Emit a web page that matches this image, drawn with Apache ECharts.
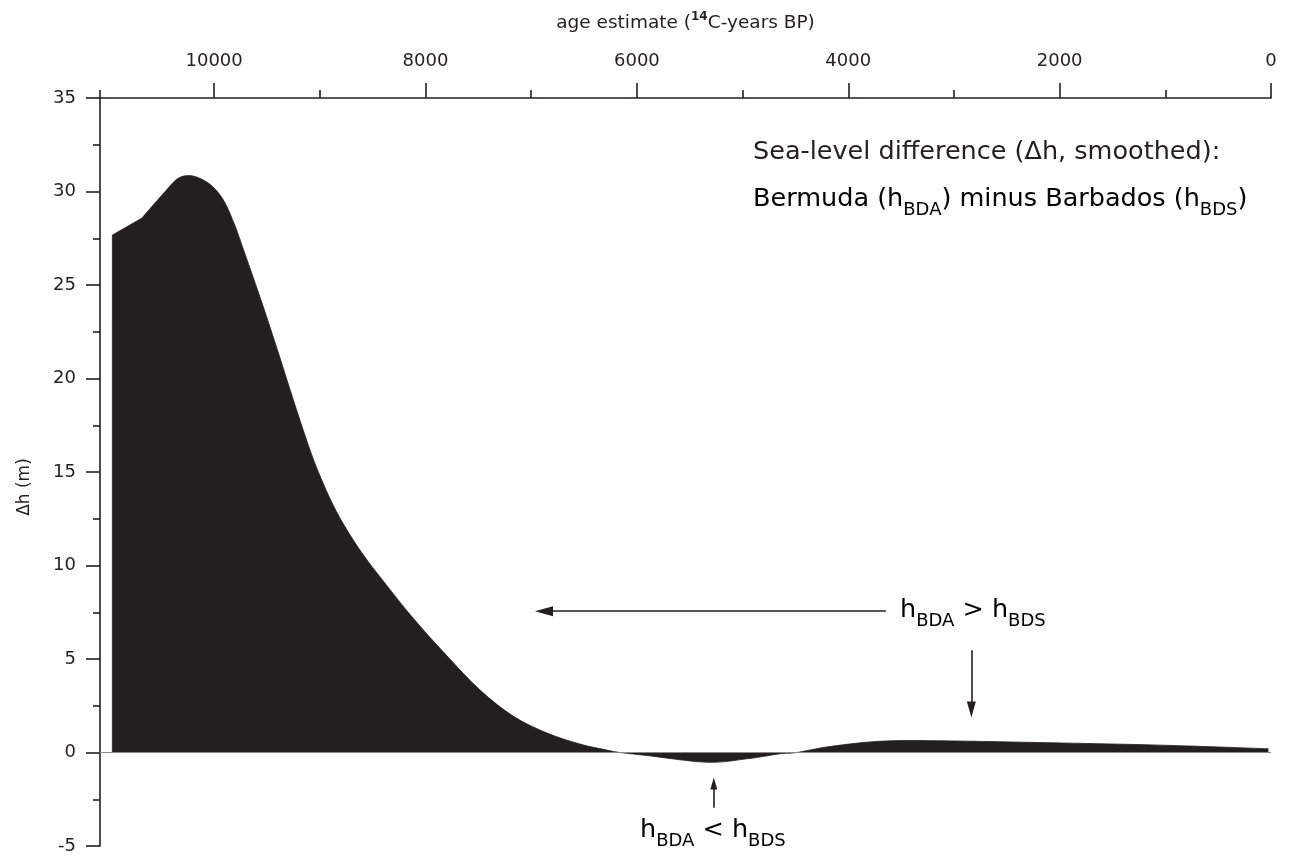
<!DOCTYPE html>
<html>
<head>
<meta charset="utf-8">
<script src="https://cdn.jsdelivr.net/npm/echarts@6/dist/echarts.min.js"></script>
<style>
  html, body { margin: 0; padding: 0; background: #fff; }
  #seaLevelChart { width: 1294px; height: 858px; }
</style>
</head>
<body>
<div id="seaLevelChart"></div>
<script>
// age (14C-years BP) and smoothed sea-level difference dh (m)
const ageYears = [10963, 10685, 10465, 10339, 10212, 10086, 9991, 9897, 9802, 9708, 9547, 9395,
  9235, 9093, 8998, 8875, 8743, 8601, 8430, 8118, 7796, 7484, 7172, 6850, 6538, 6283, 6160,
  5907, 5339, 4961, 4646, 4488, 4173, 3700, 3163, 1902, 956, 28]
const deltaH = [27.67, 28.57, 29.99, 30.71, 30.84, 30.56, 30.13, 29.39, 28.16, 26.66, 24.04, 21.42,
  18.58, 16.18, 14.79, 13.24, 11.9, 10.67, 9.39, 7.19, 5.16, 3.34, 1.95, 1.04, 0.45, 0.13, 0,
  -0.16, -0.52, -0.34, -0.07, 0, 0.32, 0.6, 0.63, 0.5, 0.38, 0.2]

// axis ticks
const xMajorTicks = [0, 2000, 4000, 6000, 8000, 10000]
const xMinorTicks = [1000, 3000, 5000, 7000, 9000, 11080]

// arrows: [from, to] in [age, dh]
const arrowOlder = [[3644, 7.56], [6879, 7.56]]
const arrowDown = [[2835, 5.47], [2835, 2.3]]
const arrowUp = [[5272, -2.95], [5272, -1.66]]

const ink = '#231f20'
const font = 'DejaVu Sans'

const myChart = echarts.init(document.getElementById('seaLevelChart'))

const pts = ageYears.map((a, i) => [a, deltaH[i]])

// filled curve: Catmull-Rom through the points, closed on dh = 0
// (the kink at the 2nd point is kept, like in the original figure)
function renderArea(params, api) {
  if (params.dataIndex !== 0) return null
  const p = pts.map(d => api.coord(d))
  const y0 = api.coord([0, 0])[1]
  const t = 1 / 6
  let path = 'M' + p[0][0] + ',' + y0 + ' L' + p[0][0] + ',' + p[0][1] + ' L' + p[1][0] + ',' + p[1][1]
  for (let i = 1; i < p.length - 1; i++) {
    const a = i === 1 ? p[1] : p[i - 1]
    const b = p[i]
    const c = p[i + 1]
    const d = p[i + 2] || p[i + 1]
    const c1 = [b[0] + (c[0] - a[0]) * t, b[1] + (c[1] - a[1]) * t]
    const c2 = [c[0] - (d[0] - b[0]) * t, c[1] - (d[1] - b[1]) * t]
    path += ' C' + c1[0] + ',' + c1[1] + ' ' + c2[0] + ',' + c2[1] + ' ' + c[0] + ',' + c[1]
  }
  path += ' L' + p[p.length - 1][0] + ',' + y0 + ' Z'
  return {
    type: 'path',
    shape: { pathData: path },
    style: { fill: ink, stroke: ink, lineWidth: 0.8 }
  }
}

const subRich = {
  n: { fontSize: 25.5, fontFamily: font, color: ink, lineHeight: 40, verticalAlign: 'middle' },
  s: { fontSize: 18, fontFamily: font, color: ink, lineHeight: 18, verticalAlign: 'bottom' }
}

const options = {
  animation: false,
  grid: { left: 100, right: 23, top: 98, bottom: 12 },
  xAxis: [
    {
      type: 'value',
      position: 'top',
      inverse: true,
      min: 0,
      max: 11080,
      name: '{n|age estimate (}{sup|14}{n|C-years BP)}',
      nameLocation: 'middle',
      nameGap: 63,
      nameTextStyle: {
        rich: {
          n: { fontSize: 18.5, fontFamily: font, color: ink, lineHeight: 24 },
          sup: { fontSize: 12, fontFamily: font, color: ink, fontWeight: 'bold', lineHeight: 12, verticalAlign: 'top' }
        }
      },
      axisLine: { show: true, onZero: false, lineStyle: { color: ink, width: 1.6 } },
      axisTick: { show: true, customValues: xMajorTicks, length: 15, lineStyle: { color: ink, width: 1.6 } },
      axisLabel: {
        customValues: xMajorTicks,
        formatter: v => String(v),
        margin: 28,
        fontSize: 18,
        fontFamily: font,
        color: ink
      },
      splitLine: { show: false }
    },
    {
      type: 'value',
      position: 'top',
      inverse: true,
      min: 0,
      max: 11080,
      axisLine: { show: false, onZero: false },
      axisTick: { show: true, customValues: xMinorTicks, length: 8, lineStyle: { color: ink, width: 1.6 } },
      axisLabel: { show: false },
      splitLine: { show: false }
    }
  ],
  yAxis: {
    type: 'value',
    min: -5,
    max: 35,
    interval: 5,
    name: 'Δh (m)',
    nameLocation: 'middle',
    nameGap: 67,
    nameTextStyle: { fontSize: 17, fontFamily: font, color: ink, padding: [0, 30, 0, 0] },
    axisLine: { show: true, onZero: false, lineStyle: { color: ink, width: 1.6 } },
    axisTick: { show: true, length: 14, lineStyle: { color: ink, width: 1.6 } },
    minorTick: { show: true, splitNumber: 2, length: 7, lineStyle: { color: ink, width: 1.6 } },
    axisLabel: { margin: 24, fontSize: 18, fontFamily: font, color: ink },
    splitLine: { show: false }
  },
  series: [
    {
      // thin zero baseline
      name: 'zero',
      type: 'line',
      z: 1,
      xAxisIndex: 0,
      data: [],
      markLine: {
        silent: true,
        symbol: 'none',
        label: { show: false },
        lineStyle: { color: '#8a8a8a', width: 1, type: 'solid' },
        data: [{ yAxis: 0 }]
      }
    },
    {
      name: 'dh',
      type: 'custom',
      z: 2,
      xAxisIndex: 0,
      data: pts,
      encode: { x: 0, y: 1 },
      renderItem: renderArea
    },
    {
      name: 'arrows',
      type: 'line',
      z: 3,
      xAxisIndex: 0,
      data: [],
      markLine: {
        silent: true,
        symbol: ['none', 'triangle'],
        symbolSize: [10, 18],
        label: { show: false },
        lineStyle: { color: ink, width: 1.6, type: 'solid' },
        data: [
          [{ coord: arrowOlder[0] }, { coord: arrowOlder[1] }],
          [{ coord: arrowDown[0] }, { coord: arrowDown[1], symbolSize: [9, 16] }],
          [{ coord: arrowUp[0] }, { coord: arrowUp[1], symbolSize: [7, 12] }]
        ]
      }
    }
  ],
  graphic: [
    {
      type: 'text',
      left: 753,
      top: 139,
      style: { text: 'Sea-level difference (Δh, smoothed):', fontSize: 25.5, fontFamily: font, fill: ink }
    },
    {
      type: 'text',
      left: 753,
      top: 186,
      style: { text: '{n|Bermuda (h}{s|BDA}{n|) minus Barbados (h}{s|BDS}{n|)}', rich: subRich }
    },
    {
      type: 'text',
      left: 900,
      top: 597,
      style: { text: '{n|h}{s|BDA}{n| > h}{s|BDS}', rich: subRich }
    },
    {
      type: 'text',
      left: 640,
      top: 817,
      style: { text: '{n|h}{s|BDA}{n| < h}{s|BDS}', rich: subRich }
    }
  ]
}

myChart.setOption(options)
window.addEventListener('resize', () => myChart.resize())
</script>
</body>
</html>
